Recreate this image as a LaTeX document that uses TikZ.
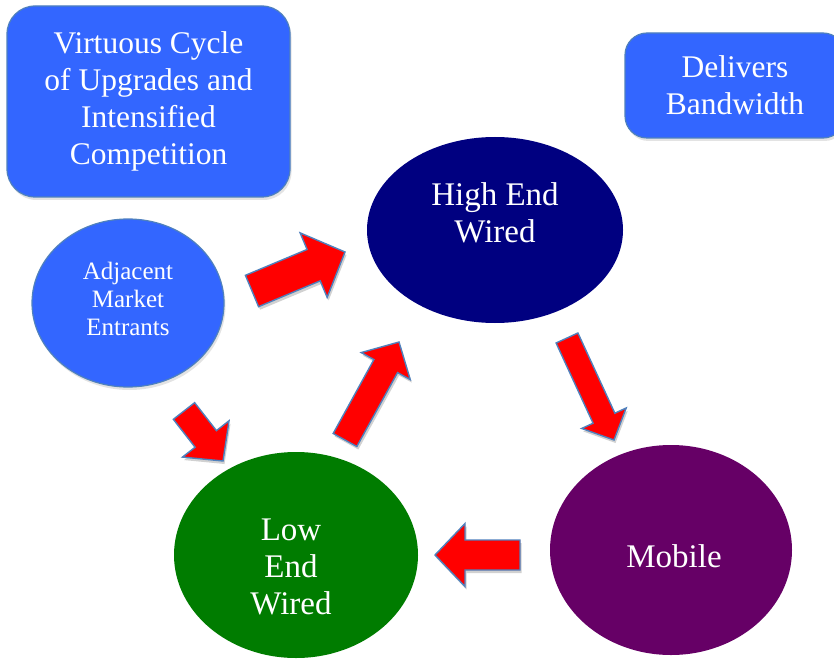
\documentclass[tikz,border=0pt]{standalone}
\usepackage{fontspec}
\setmainfont{Liberation Serif}
\usetikzlibrary{shapes.geometric,shadows,calc}

\definecolor{boxblue}{HTML}{3366FF}
\definecolor{edgeblue}{HTML}{4F81BD}
\definecolor{navyfill}{HTML}{000080}
\definecolor{plumfill}{HTML}{660066}
\definecolor{leaffill}{HTML}{007C00}
\definecolor{arrowred}{HTML}{FF0000}

\tikzset{
  softshadow/.style={drop shadow={opacity=0.22, shadow xshift=1.5pt, shadow yshift=-3pt}},
  panel/.style={draw=edgeblue, line width=1.2pt, fill=boxblue, softshadow,
    text=white, align=center, inner sep=0pt},
  bubble/.style={ellipse, inner sep=0pt},
  bigtext/.style={text=white, align=center, inner sep=0pt,
    font=\fontsize{33}{37}\selectfont},
  paneltext/.style={font=\fontsize{31.5}{37}\selectfont},
  smalltext/.style={text=white, align=center, inner sep=0pt,
    font=\fontsize{25}{28}\selectfont},
  blockfill/.style={fill=arrowred, draw=edgeblue, line width=1.4pt, line join=miter},
  blockshadow/.style={fill=black, opacity=0.18, transform canvas={shift={(1.5pt,-3pt)}}},
}

% Block arrow from #1 to #2: shaft half-width #3, head half-width #4, head length #5
\newcommand\blockarrow[5]{%
  \coordinate (neck) at ($(#2)!#5!(#1)$);
  \foreach \sty in {blockshadow,blockfill}{%
    \path[\sty] ($(#1)!#3!90:(#2)$) -- ($(neck)!#3!90:(#2)$)
      -- ($(neck)!#4!90:(#2)$) -- (#2) -- ($(neck)!#4!-90:(#2)$)
      -- ($(neck)!#3!-90:(#2)$) -- ($(#1)!#3!-90:(#2)$) -- cycle;
  }%
}

\begin{document}
\begin{tikzpicture}[x=1pt,y=-1pt]
\useasboundingbox (0,0) rectangle (834,660);
\fill[white] (0,0) rectangle (834,660);

% Text panels
\node[panel, paneltext, rounded corners=28pt, minimum width=283pt, minimum height=191pt]
  (cycle) at (148.5,101.5) {Virtuous Cycle\\of Upgrades and\\Intensified\\Competition};
\node[panel, paneltext, rounded corners=22pt, minimum width=220pt, minimum height=105pt]
  (bandwidth) at (735,85.5) {Delivers\\Bandwidth};

% Market segments
\node[bubble, fill=boxblue, draw=edgeblue, line width=1.2pt, softshadow,
  minimum width=192pt, minimum height=168pt] (adjacent) at (128,303) {};
\node[smalltext] (adjacent-label) at (128,299) {Adjacent\\Market\\Entrants};

\node[bubble, fill=navyfill, minimum width=256pt, minimum height=186pt] (high) at (495,230) {};
\node[bigtext] (high-label) at (495,213) {High End\\Wired};

\node[bubble, fill=plumfill, minimum width=242pt, minimum height=210pt] (mobile) at (671,550) {};
\node[bigtext] (mobile-label) at (674,556) {Mobile};

\node[bubble, fill=leaffill, minimum width=244pt, minimum height=206pt] (low) at (296,555) {};
\node[bigtext] (low-label) at (291,567) {Low\\End\\Wired};

% Arrow end points
\coordinate (a1t) at (252,291); \coordinate (a1h) at (345,252);
\coordinate (a2t) at (184,411); \coordinate (a2h) at (223,461);
\coordinate (a3t) at (345,440); \coordinate (a3h) at (399,342);
\coordinate (a4t) at (567,338); \coordinate (a4h) at (614,440);
\coordinate (a5t) at (520,555); \coordinate (a5h) at (435,555);

\blockarrow{a1t}{a1h}{17pt}{35pt}{34pt}
\blockarrow{a2t}{a2h}{13.5pt}{29.5pt}{28pt}
\blockarrow{a3t}{a3h}{13.5pt}{28pt}{27.5pt}
\blockarrow{a4t}{a4h}{12pt}{24.5pt}{24pt}
\blockarrow{a5t}{a5h}{15pt}{31.5pt}{30pt}
\end{tikzpicture}
\end{document}
